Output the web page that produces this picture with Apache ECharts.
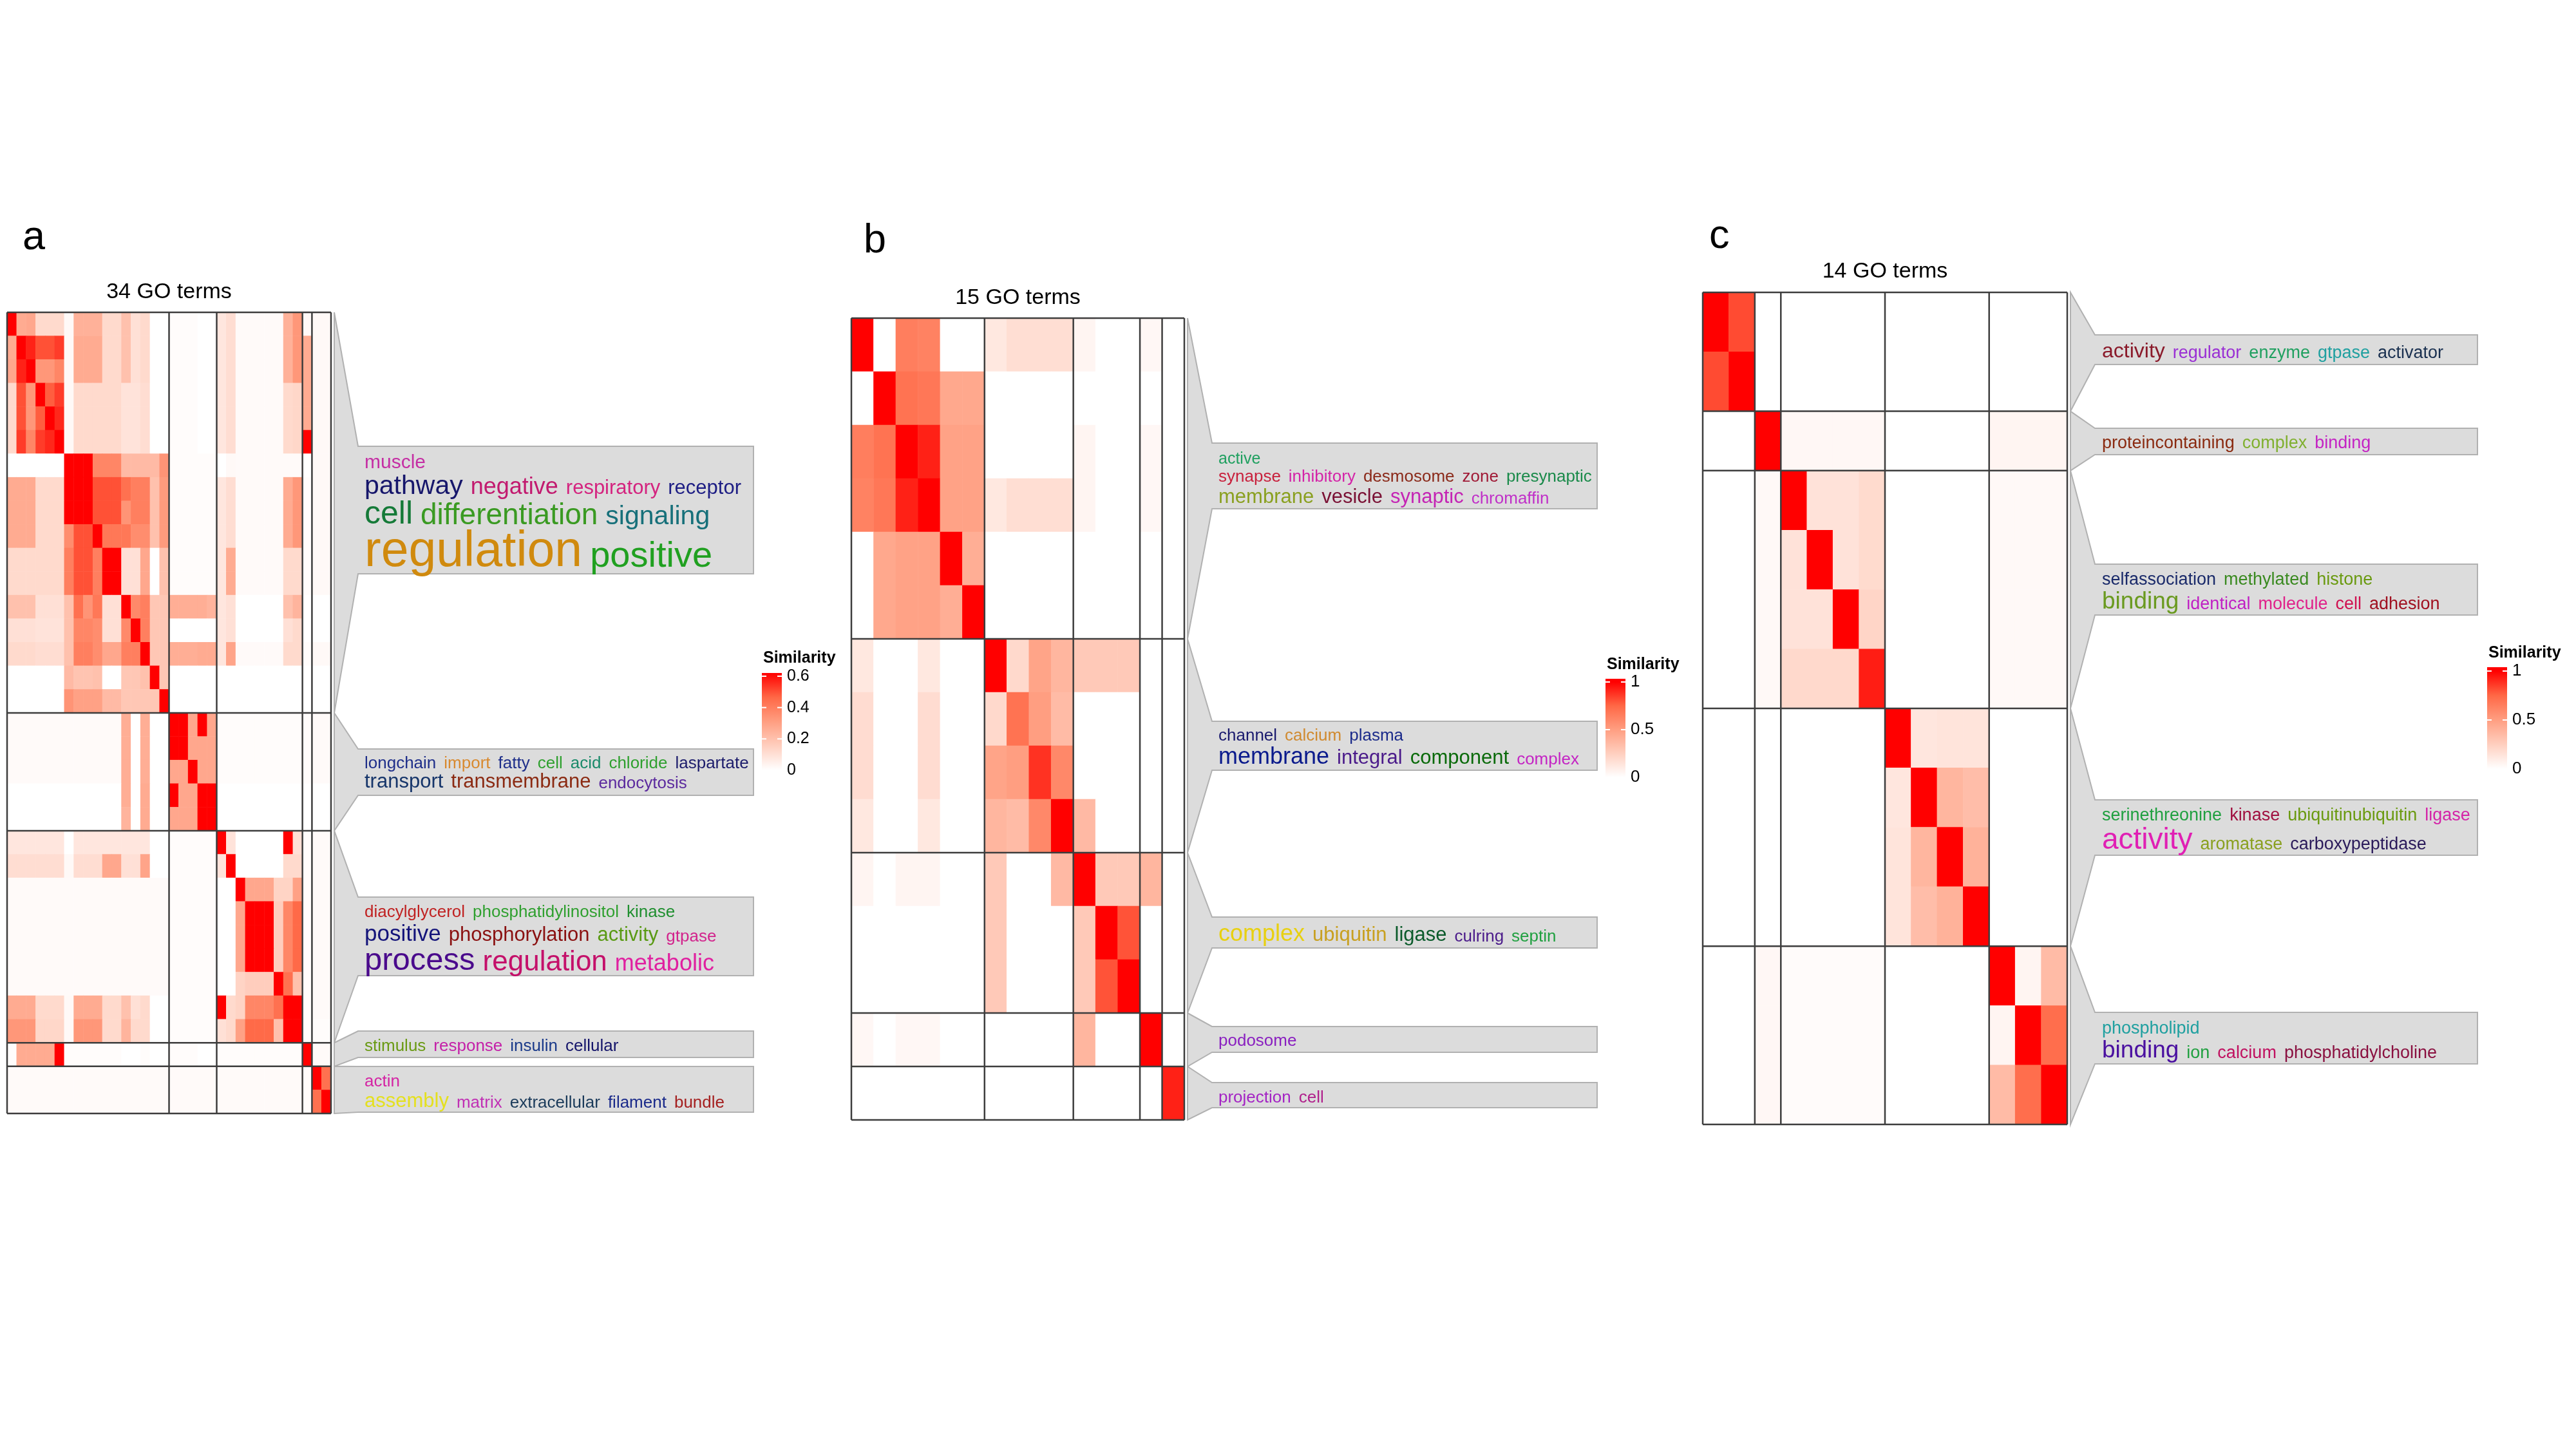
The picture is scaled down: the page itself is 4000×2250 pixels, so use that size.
<!DOCTYPE html>
<html>
<head>
<meta charset="utf-8">
<title>GO term similarity</title>
<script src="https://cdn.jsdelivr.net/npm/echarts@6/dist/echarts.min.js"></script>
<style>
  html, body { margin: 0; padding: 0; background: #fff; }
  #chart { width: 4000px; height: 2250px; }
</style>
</head>
<body>
<div id="chart"></div>
<script>
"use strict";

// similarity matrices
const simA = [
  [1,.27,.28,.12,.12,.12,.02,.25,.25,.25,.12,.12,.2,.1,.12,0,0,.01,.01,.01,0,0,.08,.11,.015,.015,.015,.015,.015,.25,.33,.02,.02,.02],
  [.27,1,.57,.5,.5,.53,.02,.27,.27,.27,.12,.12,.2,.1,.12,0,0,.01,.01,.01,0,0,.08,.11,.015,.015,.015,.015,.015,.25,.33,.27,.02,.02],
  [.28,.57,1,.33,.33,.38,.02,.27,.27,.27,.12,.12,.2,.1,.12,0,0,.01,.01,.01,0,0,.08,.11,.015,.015,.015,.015,.015,.25,.33,.27,.02,.02],
  [.12,.5,.33,1,.48,.53,.02,.12,.12,.12,.12,.12,.09,.09,.11,0,0,.01,.01,.01,0,0,.08,.11,.015,.015,.015,.015,.015,.12,.13,.27,.02,.02],
  [.12,.5,.33,.48,1,.56,.02,.12,.12,.12,.12,.12,.09,.09,.11,0,0,.01,.01,.01,0,0,.08,.11,.015,.015,.015,.015,.015,.12,.13,.27,.02,.02],
  [.12,.53,.38,.53,.56,1,.02,.12,.12,.12,.12,.12,.09,.09,.11,0,0,.01,.01,.01,0,0,.08,.11,.015,.015,.015,.015,.015,.12,.13,.62,.02,.02],
  [0,0,0,0,0,0,1,1,1,.38,.38,.38,.22,.22,.22,.22,.34,.01,.01,.01,.01,.01,0,.02,.015,.015,.015,.015,.015,.015,.015,0,.02,.02],
  [.27,.27,.27,.12,.12,.12,1,1,1,.5,.5,.5,.44,.4,.4,.2,.32,.01,.01,.01,.01,.01,.08,.11,.015,.015,.015,.015,.015,.27,.33,.01,.02,.02],
  [.27,.27,.27,.12,.12,.12,1,1,1,.5,.5,.5,.34,.4,.4,.2,.32,.01,.01,.01,.01,.01,.08,.11,.015,.015,.015,.015,.015,.27,.33,.01,.02,.02],
  [.27,.27,.27,.12,.12,.12,.36,.5,.5,1,.42,.42,.42,.36,.36,.2,.32,.01,.01,.01,.01,.01,.08,.11,.015,.015,.015,.015,.015,.27,.33,.01,.02,.02],
  [.12,.12,.12,.12,.12,.12,.4,.5,.5,.4,1,1,.1,.1,.28,0,.2,.01,.01,.01,.01,.01,.08,.27,.015,.015,.015,.015,.015,.12,.12,.01,.02,.02],
  [.12,.12,.12,.12,.12,.12,.4,.5,.5,.4,1,1,.1,.1,.28,0,.2,.01,.01,.01,.01,.01,.08,.27,.015,.015,.015,.015,.015,.12,.12,.01,.02,.02],
  [.2,.2,.2,.1,.1,.1,.2,.44,.34,.42,.1,.1,1,.37,.4,.18,.18,.26,.26,.26,.26,.24,.08,.1,0,0,0,0,0,.2,.24,0,0,0],
  [.1,.1,.1,.09,.09,.09,.2,.38,.38,.36,.1,.1,.37,1,.4,.18,.18,0,0,0,0,0,.08,.1,0,0,0,0,0,.1,.12,0,0,0],
  [.12,.12,.12,.11,.11,.11,.2,.4,.4,.36,.28,.28,.4,.4,1,.18,.18,.26,.26,.26,.27,.27,.08,.29,.015,.015,.015,.015,.015,.12,.12,.01,.02,.02],
  [0,0,0,0,0,0,.22,.19,.19,.2,0,0,.18,.18,.2,1,.18,0,0,0,0,0,0,0,0,0,0,0,0,0,0,0,0,0],
  [0,0,0,0,0,0,.34,.3,.3,.3,.22,.22,.18,.18,.18,.18,1,0,0,0,0,0,0,0,0,0,0,0,0,0,0,0,0,0],
  [.015,.015,.015,.015,.015,.015,.015,.015,.015,.015,.015,.015,.26,0,.26,0,0,1,1,.28,1,.28,.01,.01,.01,.01,.01,.01,.01,.01,.01,.01,.015,.015],
  [.015,.015,.015,.015,.015,.015,.015,.015,.015,.015,.015,.015,.26,0,.26,0,0,1,1,.28,.28,.28,.01,.01,.01,.01,.01,.01,.01,.01,.01,.01,.015,.015],
  [.015,.015,.015,.015,.015,.015,.015,.015,.015,.015,.015,.015,.26,0,.26,0,0,.28,.28,1,.28,.28,.01,.01,.01,.01,.01,.01,.01,.01,.01,.01,.015,.015],
  [0,0,0,0,0,0,0,0,0,0,0,0,.26,0,.27,0,0,1,.28,.28,1,1,0,0,0,0,0,0,0,0,0,0,0,0],
  [0,0,0,0,0,0,0,0,0,0,0,0,.24,0,.27,0,0,.28,.28,.28,1,1,0,0,0,0,0,0,0,0,0,0,0,0],
  [.08,.08,.08,.08,.08,.08,0,.08,.08,.08,.08,.08,.08,.08,.08,0,0,.01,.01,.01,.01,.01,1,.09,0,0,0,0,0,1,.1,.01,.015,.015],
  [.11,.11,.11,.11,.11,.11,.02,.11,.11,.11,.28,.28,.1,.1,.29,0,0,.01,.01,.01,.01,.01,.09,1,0,0,0,0,0,.12,.12,.01,.015,.015],
  [.015,.015,.015,.015,.015,.015,.015,.015,.015,.015,.015,.015,.015,.015,.015,.015,.015,.01,.01,.01,.01,.01,0,0,1,.28,.28,.28,.14,.14,.3,.01,.015,.015],
  [.015,.015,.015,.015,.015,.015,.015,.015,.015,.015,.015,.015,.015,.015,.015,.015,.015,.01,.01,.01,.01,.01,0,0,.28,1,1,1,.16,.38,.46,.01,.015,.015],
  [.015,.015,.015,.015,.015,.015,.015,.015,.015,.015,.015,.015,.015,.015,.015,.015,.015,.01,.01,.01,.01,.01,0,0,.28,1,1,1,.16,.38,.46,.01,.015,.015],
  [.015,.015,.015,.015,.015,.015,.015,.015,.015,.015,.015,.015,.015,.015,.015,.015,.015,.01,.01,.01,.01,.01,0,0,.28,1,1,1,.16,.38,.46,.01,.015,.015],
  [.015,.015,.015,.015,.015,.015,.015,.015,.015,.015,.015,.015,.015,.015,.015,.015,.015,.01,.01,.01,.01,.01,0,0,.14,.16,.16,.16,1,.44,.2,.01,.015,.015],
  [.27,.27,.27,.12,.12,.12,.02,.27,.27,.27,.12,.12,.2,.1,.12,0,0,.01,.01,.01,.01,.01,1,.12,.14,.38,.38,.38,.44,1,1,.01,.015,.015],
  [.33,.33,.33,.13,.13,.13,.02,.33,.33,.33,.12,.12,.24,.12,.12,0,0,.01,.01,.01,.01,.01,.1,.12,.3,.46,.46,.46,.2,1,1,.01,.01,.01],
  [.01,.27,.27,.27,.27,.62,.01,.01,.01,.01,.01,.01,0,0,.01,0,0,.01,.01,.01,0,0,.01,.01,.01,.01,.01,.01,.01,.01,.01,1,.015,.015],
  [.015,.015,.015,.015,.015,.015,.015,.015,.015,.015,.015,.015,.015,.015,.015,.015,.015,.015,.015,.015,.015,.015,.015,.015,.015,.015,.015,.015,.015,.015,.015,.01,1,.44],
  [.015,.015,.015,.015,.015,.015,.015,.015,.015,.015,.015,.015,.015,.015,.015,.015,.015,.015,.015,.015,.015,.015,.015,.015,.015,.015,.015,.015,.015,.015,.015,.01,.44,1]
];

const simB = [
  [1,0,.65,.63,0,0,.12,.17,.17,.17,.05,0,0,.04,0],
  [0,1,.7,.68,.45,.45,0,0,0,0,0,0,0,0,0],
  [.65,.7,1,.92,.48,.48,0,0,0,0,.05,0,0,.04,0],
  [.63,.68,.92,1,.48,.48,.12,.17,.17,.17,.05,0,0,.04,0],
  [0,.45,.48,.48,1,.42,0,0,0,0,0,0,0,0,0],
  [0,.45,.48,.48,.42,1,0,0,0,0,0,0,0,0,0],
  [.12,0,0,.12,0,0,1,.2,.47,.38,.28,.28,.28,0,0],
  [.18,0,0,.18,0,0,.2,.7,.5,.35,0,0,0,0,0],
  [.18,0,0,.18,0,0,.47,.5,.88,.6,0,0,0,0,0],
  [.12,0,0,.12,0,0,.38,.35,.6,1,.36,0,0,0,0],
  [.05,0,.05,.05,0,0,.28,0,0,.36,1,.28,.28,.38,0],
  [0,0,0,0,0,0,.28,0,0,0,.28,1,.8,0,0],
  [0,0,0,0,0,0,.28,0,0,0,.28,.8,1,0,0],
  [.04,0,.04,.04,0,0,0,0,0,0,.38,0,0,1,0],
  [0,0,0,0,0,0,0,0,0,0,0,0,0,0,.92]
];

const simC = [
  [1,.82,0,0,0,0,0,0,0,0,0,0,0,0],
  [.82,1,0,0,0,0,0,0,0,0,0,0,0,0],
  [0,0,1,.04,.04,.04,.04,0,0,0,0,.05,.05,.05],
  [0,0,.03,1,.15,.15,.19,0,0,0,0,.03,.03,.03],
  [0,0,.03,.15,1,.15,.19,0,0,0,0,.03,.03,.03],
  [0,0,.03,.15,.15,1,.22,0,0,0,0,.03,.03,.03],
  [0,0,.03,.2,.2,.2,.93,0,0,0,0,.03,.03,.03],
  [0,0,0,0,0,0,0,1,.13,.14,.14,0,0,0],
  [0,0,0,0,0,0,0,.13,1,.38,.34,0,0,0],
  [0,0,0,0,0,0,0,.14,.38,1,.4,0,0,0],
  [0,0,0,0,0,0,0,.14,.34,.4,1,0,0,0],
  [0,0,.04,.02,.02,.02,.02,0,0,0,0,1,.05,.35],
  [0,0,.04,.02,.02,.02,.02,0,0,0,0,.05,1,.72],
  [0,0,.04,.02,.02,.02,.02,0,0,0,0,.35,.72,1]
];

const clustersA = [17, 5, 9, 1, 2];
const clustersB = [6, 4, 3, 1, 1];
const clustersC = [2, 1, 4, 4, 3];

const titles = ['34 GO terms', '15 GO terms', '14 GO terms'];
const letters = ['a', 'b', 'c'];
const legendTicksA = [0, 0.2, 0.4, 0.6];
const legendTicksB = [0, 0.5, 1];
const legendTicksC = [0, 0.5, 1];
const colorMaxA = 0.62;
const colorMaxB = 1;
const colorMaxC = 1;

// word clouds: per cluster, per line, [word, font size, colour]
const wordsA = [
  [
    [['muscle', 30, '#c52fa4']],
    [['pathway', 41, '#16166b'], ['negative', 36, '#c21a6f'], ['respiratory', 31, '#d4237f'], ['receptor', 31, '#1d1d84']],
    [['cell', 50, '#157a38'], ['differentiation', 46, '#3a9a22'], ['signaling', 41, '#17707a']],
    [['regulation', 77, '#d08a0e'], ['positive', 56, '#20a020']]
  ],
  [
    [['longchain', 26, '#1f2f8a'], ['import', 26, '#d88a30'], ['fatty', 26, '#1f2f8a'], ['cell', 26, '#2fa02f'],
     ['acid', 26, '#1a8a6a'], ['chloride', 26, '#2fa02f'], ['laspartate', 26, '#1b1b6b']],
    [['transport', 31, '#16356a'], ['transmembrane', 31, '#8b2a12'], ['endocytosis', 26, '#5b2a9e']]
  ],
  [
    [['diacylglycerol', 26, '#c02222'], ['phosphatidylinositol', 26, '#30a030'], ['kinase', 26, '#1f8f2f']],
    [['positive', 35, '#14147a'], ['phosphorylation', 31, '#8a1010'], ['activity', 31, '#5a9a14'], ['gtpase', 26, '#d2238c']],
    [['process', 49, '#4a0a8c'], ['regulation', 44, '#c4106a'], ['metabolic', 36, '#e020a0']]
  ],
  [
    [['stimulus', 26, '#6a9a14'], ['response', 26, '#c420a8'], ['insulin', 26, '#1a3a8a'], ['cellular', 26, '#14146a']]
  ],
  [
    [['actin', 26, '#d424a4']],
    [['assembly', 31, '#e4e020'], ['matrix', 26, '#c030b4'], ['extracellular', 26, '#1a3a5a'], ['filament', 26, '#1a2a8a'], ['bundle', 26, '#a52020']]
  ]
];

const wordsB = [
  [
    [['active', 25, '#20a060']],
    [['synapse', 26, '#c8203c'], ['inhibitory', 26, '#d424a8'], ['desmosome', 26, '#8b2a1a'], ['zone', 26, '#a01a36'], ['presynaptic', 26, '#1a8a4a']],
    [['membrane', 31, '#8aa020'], ['vesicle', 31, '#7a1034'], ['synaptic', 31, '#c424b4'], ['chromaffin', 26, '#c030c8']]
  ],
  [
    [['channel', 26, '#1a1a6e'], ['calcium', 26, '#d08a30'], ['plasma', 26, '#1a2a8a']],
    [['membrane', 36, '#0a1a8c'], ['integral', 31, '#4a1a8a'], ['component', 31, '#0a6a0a'], ['complex', 26, '#c424c4']]
  ],
  [
    [['complex', 36, '#e8d010'], ['ubiquitin', 31, '#c8a020'], ['ligase', 31, '#0a5a2a'], ['culring', 26, '#4a1a8a'], ['septin', 26, '#20a040']]
  ],
  [
    [['podosome', 26, '#8a20c0']]
  ],
  [
    [['projection', 26, '#a424c4'], ['cell', 26, '#b0208c']]
  ]
];

const wordsC = [
  [
    [['activity', 32, '#8a1a2a'], ['regulator', 27, '#9a30d4'], ['enzyme', 27, '#20a060'], ['gtpase', 27, '#20a0a0'], ['activator', 27, '#1a3050']]
  ],
  [
    [['proteincontaining', 27, '#8a2a10'], ['complex', 27, '#80b030'], ['binding', 27, '#c424c4']]
  ],
  [
    [['selfassociation', 27, '#1a2a6a'], ['methylated', 27, '#3a8a20'], ['histone', 27, '#6a9a10']],
    [['binding', 37, '#6a9a20'], ['identical', 27, '#c020c4'], ['molecule', 27, '#e0208a'], ['cell', 27, '#d01050'], ['adhesion', 27, '#a01020']]
  ],
  [
    [['serinethreonine', 27, '#20a040'], ['kinase', 27, '#a01040'], ['ubiquitinubiquitin', 27, '#6a9a10'], ['ligase', 27, '#d424a8']],
    [['activity', 46, '#e020b4'], ['aromatase', 27, '#8aa020'], ['carboxypeptidase', 27, '#2a1a5a']]
  ],
  [
    [['phospholipid', 27, '#20a0a0']],
    [['binding', 37, '#4a10a0'], ['ion', 27, '#20a040'], ['calcium', 27, '#c01060'], ['phosphatidylcholine', 27, '#8a1040']]
  ]
];

const FONT = '"Liberation Sans", Arial, Helvetica, sans-serif';
// white -> red, interpolated in Lab like the original colour ramp
const RAMP = ['#ffffff', '#ffcfbf', '#ff9e81', '#ff6846', '#ff0000'];
const WORD_GAP = 12;

// page layout, in pixels
const panels = [
  {
    sim: simA, clusters: clustersA, words: wordsA, ticks: legendTicksA, colorMax: colorMaxA,
    grid: { left: 11, top: 485, width: 503, height: 1244 },
    letter: { x: 35, base: 390 }, titleY: 454,
    box: { x1: 556, x2: 1170, textX: 566 },
    boxes: [[693, 891, [729, 769, 816, 883]], [1163, 1235, [1194, 1225]], [1393, 1515, [1425, 1463, 1509]],
            [1601, 1642, [1633]], [1656, 1727, [1688, 1721]]],
    legend: { x: 1183, zeroY: 1196, unitPx: 243.3, top: 1045, titleBase: 1030, labelSize: 25 }
  },
  {
    sim: simB, clusters: clustersB, words: wordsB, ticks: legendTicksB, colorMax: colorMaxB,
    grid: { left: 1322, top: 494, width: 517, height: 1245 },
    letter: { x: 1341, base: 395 }, titleY: 463,
    box: { x1: 1882, x2: 2480, textX: 1892 },
    boxes: [[688, 790, [721, 749, 783]], [1120, 1196, [1151, 1188]], [1424, 1472, [1463]],
            [1594, 1634, [1625]], [1681, 1720, [1713]]],
    legend: { x: 2493, zeroY: 1207, unitPx: 148, top: 1054, titleBase: 1040, labelSize: 26 }
  },
  {
    sim: simC, clusters: clustersC, words: wordsC, ticks: legendTicksC, colorMax: colorMaxC,
    grid: { left: 2644, top: 454, width: 566, height: 1292 },
    letter: { x: 2654, base: 388 }, titleY: 422,
    box: { x1: 3253, x2: 3847, textX: 3264 },
    boxes: [[520, 566, [557]], [665, 706, [697]], [876, 955, [909, 947]],
            [1242, 1328, [1275, 1320]], [1572, 1652, [1606, 1644]]],
    legend: { x: 3862, zeroY: 1194, unitPx: 152, top: 1036, titleBase: 1022, labelSize: 26 }
  }
];

const chart = echarts.init(document.getElementById('chart'), null, { renderer: 'canvas', width: 4000, height: 2250 });

function heatData(m) {
  const out = [];
  m.forEach((row, r) => row.forEach((v, c) => out.push([c, r, v])));
  return out;
}

function clusterStarts(sizes) {
  const starts = [0];
  sizes.forEach(s => starts.push(starts[starts.length - 1] + s));
  return starts;
}

// one item per split line: [category index, 0 = leading edge / 1 = trailing edge]
function borderData(sizes) {
  const starts = clusterStarts(sizes);
  const n = starts[starts.length - 1];
  return starts.slice(0, -1).map(s => [s, 0]).concat([[n - 1, 1]]);
}

function renderBorder(params, api) {
  const idx = api.value(0);
  const side = api.value(1) ? 0.5 : -0.5;
  const c = api.coord([idx, idx]);
  const s = api.size([1, 1]);
  const x = c[0] + side * s[0];
  const y = c[1] + side * s[1];
  const g = params.coordSys;
  const st = { stroke: '#3d3d3d', lineWidth: 2.5 };
  return {
    type: 'group',
    children: [
      { type: 'line', shape: { x1: x, y1: g.y, x2: x, y2: g.y + g.height }, style: st },
      { type: 'line', shape: { x1: g.x, y1: y, x2: g.x + g.width, y2: y }, style: st }
    ]
  };
}

const option = {
  animation: false,
  backgroundColor: '#ffffff',
  grid: panels.map(p => Object.assign({ containLabel: false }, p.grid)),
  xAxis: panels.map((p, i) => ({
    type: 'category', gridIndex: i, data: p.sim.map((_, k) => 'GO' + (k + 1)),
    show: false, boundaryGap: true
  })),
  yAxis: panels.map((p, i) => ({
    type: 'category', gridIndex: i, data: p.sim.map((_, k) => 'GO' + (k + 1)),
    show: false, inverse: true, boundaryGap: true
  })),
  visualMap: panels.map((p, i) => ({
    type: 'continuous', show: false, seriesIndex: i, dimension: 2,
    min: 0, max: p.colorMax,
    inRange: { color: RAMP },
    outOfRange: { color: '#ff0000' }
  })),
  series: panels.map((p, i) => ({
    type: 'heatmap', xAxisIndex: i, yAxisIndex: i,
    data: heatData(p.sim), progressive: 0,
    itemStyle: { borderWidth: 0 },
    emphasis: { disabled: true }
  })).concat(panels.map((p, i) => ({
    type: 'custom', xAxisIndex: i, yAxisIndex: i, clip: false, z: 5,
    data: borderData(p.clusters),
    renderItem: renderBorder,
    silent: true
  })))
};

chart.setOption(option);

// ---- annotations: panel letters, titles, word-cloud boxes, colour legends ----
const ctx = document.createElement('canvas').getContext('2d');
function textWidth(str, size) {
  ctx.font = size + 'px ' + FONT;
  return ctx.measureText(str).width;
}
// zrender draws text on its middle line; shift so the alphabetic baseline lands on `base`
function textAt(str, x, base, size, color, extra) {
  return {
    type: 'text', silent: true,
    style: Object.assign({
      text: str, x: x, y: base - 0.33 * size,
      fontSize: size, fontFamily: FONT, fill: color,
      align: 'left', verticalAlign: 'middle'
    }, extra || {})
  };
}

const graphics = [];

panels.forEach((p, pi) => {
  const n = p.sim.length;
  const g = p.grid;

  graphics.push(textAt(letters[pi], p.letter.x, p.letter.base, 63, '#000'));
  graphics.push({
    type: 'text', silent: true,
    style: {
      text: titles[pi], x: g.left + g.width / 2, y: p.titleY,
      fontSize: 34, fontFamily: FONT, fill: '#000', align: 'center', verticalAlign: 'middle'
    }
  });

  // row edges of each cluster, taken from the heatmap's own axes
  const c0 = chart.convertToPixel({ gridIndex: pi }, [0, 0]);
  const c1 = chart.convertToPixel({ gridIndex: pi }, [1, 1]);
  const cw = c1[0] - c0[0];
  const ch = c1[1] - c0[1];
  const edgeY = k => k < n
    ? chart.convertToPixel({ gridIndex: pi }, [0, k])[1] - ch / 2
    : chart.convertToPixel({ gridIndex: pi }, [0, n - 1])[1] + ch / 2;
  const rightX = chart.convertToPixel({ gridIndex: pi }, [n - 1, 0])[0] + cw / 2;
  const x0 = rightX + 5;

  const starts = clusterStarts(p.clusters);
  p.boxes.forEach((b, bi) => {
    const yTop = edgeY(starts[bi]);
    const yBot = edgeY(starts[bi + 1]);
    graphics.push({
      type: 'polygon', silent: true, z: 1,
      shape: {
        points: [[x0, yTop], [p.box.x1, b[0]], [p.box.x2, b[0]], [p.box.x2, b[1]], [p.box.x1, b[1]], [x0, yBot]]
      },
      style: { fill: '#dcdcdc', stroke: '#b1b1b1', lineWidth: 2 }
    });
    p.words[bi].forEach((line, li) => {
      let x = p.box.textX;
      line.forEach(w => {
        const t = textAt(w[0], x, b[2][li], w[1], w[2]);
        t.z = 2;
        graphics.push(t);
        x += textWidth(w[0], w[1]) + WORD_GAP;
      });
    });
  });

  // colour legend
  const L = p.legend;
  const barW = 31;
  const span = L.zeroY - L.top;
  const stops = RAMP.map((col, k) => ({
    offset: Math.min(1, (k / (RAMP.length - 1)) * p.colorMax * L.unitPx / span),
    color: col
  }));
  stops.push({ offset: 1, color: '#ff0000' });
  graphics.push({
    type: 'rect', silent: true,
    shape: { x: L.x, y: L.top, width: barW, height: span },
    style: { fill: new echarts.graphic.LinearGradient(0, 1, 0, 0, stops) }
  });
  graphics.push(textAt('Similarity', L.x + 2, L.titleBase, 25, '#000', { fontWeight: 'bold' }));
  p.ticks.forEach(v => {
    const y = L.zeroY - v * L.unitPx;
    if (v > 0) {
      graphics.push({ type: 'line', silent: true, z: 3, shape: { x1: L.x, y1: y, x2: L.x + 7, y2: y }, style: { stroke: '#ffffff', lineWidth: 2 } });
      graphics.push({ type: 'line', silent: true, z: 3, shape: { x1: L.x + barW - 7, y1: y, x2: L.x + barW, y2: y }, style: { stroke: '#ffffff', lineWidth: 2 } });
    }
    graphics.push({
      type: 'text', silent: true,
      style: {
        text: String(v), x: L.x + barW + 8, y: y,
        fontSize: L.labelSize, fontFamily: FONT, fill: '#000', align: 'left', verticalAlign: 'middle'
      }
    });
  });
});

chart.setOption({ graphic: { elements: graphics } });
</script>
</body>
</html>
